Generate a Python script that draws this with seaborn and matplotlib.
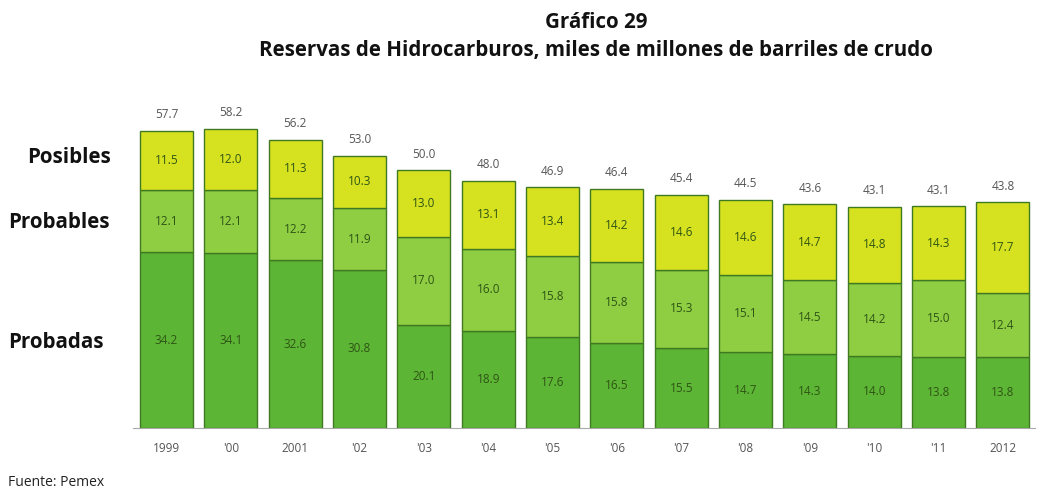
import matplotlib
matplotlib.use("Agg")
import matplotlib.pyplot as plt
import seaborn as sns
import numpy as np
import pandas as pd

years = ["1999", "'00", "2001", "'02", "'03", "'04", "'05", "'06", "'07", "'08", "'09", "'10", "'11", "2012"]
probadas = [34.2, 34.1, 32.6, 30.8, 20.1, 18.9, 17.6, 16.5, 15.5, 14.7, 14.3, 14.0, 13.8, 13.8]
probables = [12.1, 12.1, 12.2, 11.9, 17.0, 16.0, 15.8, 15.8, 15.3, 15.1, 14.5, 14.2, 15.0, 12.4]
posibles = [11.5, 12.0, 11.3, 10.3, 13.0, 13.1, 13.4, 14.2, 14.6, 14.6, 14.7, 14.8, 14.3, 17.7]
totales = [57.7, 58.2, 56.2, 53.0, 50.0, 48.0, 46.9, 46.4, 45.4, 44.5, 43.6, 43.1, 43.1, 43.8]

df = pd.DataFrame({"year": years, "probadas": probadas,
                   "probables": probables, "posibles": posibles})
df["base2"] = df["probadas"] + df["probables"]

sns.set_style("white")
plt.rcParams["font.family"] = ["Open Sans", "DejaVu Sans"]

fig = plt.figure(figsize=(10.4, 4.95), dpi=100)
ax = fig.add_axes([0.1279, 0.1354, 0.8673, 0.6626])

c_prob = "#5cb534"
c_proba = "#8fce42"
c_pos = "#d6e21f"
edge = "#3f7a22"

common = dict(x="year", order=years, width=0.82, edgecolor=edge, linewidth=1.0,
              saturation=1, ax=ax)
sns.barplot(data=df, y="probadas", color=c_prob, **common)
sns.barplot(data=df, y="probables", bottom=df["probadas"], color=c_proba, **common)
sns.barplot(data=df, y="posibles", bottom=df["base2"], color=c_pos, **common)

lab_color = "#2f5516"
for i in range(len(years)):
    ax.text(i, probadas[i] / 2, f"{probadas[i]:.1f}", ha="center", va="center",
            fontsize=8.5, color=lab_color)
    ax.text(i, probadas[i] + probables[i] / 2, f"{probables[i]:.1f}", ha="center",
            va="center", fontsize=8.5, color=lab_color)
    ax.text(i, probadas[i] + probables[i] + posibles[i] / 2, f"{posibles[i]:.1f}",
            ha="center", va="center", fontsize=8.5, color=lab_color)
    ax.annotate(f"{totales[i]:.1f}", (i, probadas[i] + probables[i] + posibles[i]),
                xytext=(0, 7), textcoords="offset points", ha="center", va="bottom",
                fontsize=8.5, color="#555555")

ax.set_xlim(-0.52, 13.45)
ax.set_ylim(0, 63.8)
ax.set_xlabel("")
ax.set_ylabel("")
ax.set_yticks([])
ax.set_xticks(range(len(years)))
ax.set_xticklabels(years, fontsize=8.5, color="#555555")
ax.set_xticks(np.arange(-0.5, len(years), 1.0), minor=True)
ax.tick_params(axis="x", which="major", length=0, pad=10)
ax.tick_params(axis="x", which="minor", length=4, color="#999999", direction="out")
for s in ["top", "right", "left"]:
    ax.spines[s].set_visible(False)
ax.spines["bottom"].set_color("#aaaaaa")
ax.spines["bottom"].set_linewidth(0.8)

fig.text(0.573, 0.976, "Gráfico 29", ha="center", va="top", fontsize=14.8,
         fontweight="bold", color="#111111")
fig.text(0.573, 0.919, "Reservas de Hidrocarburos, miles de millones de barriles de crudo",
         ha="center", va="top", fontsize=14.8, fontweight="bold", color="#111111")

fig.text(0.026, 0.681, "Posibles", ha="left", va="center", fontsize=14.8,
         fontweight="bold", color="#111111")
fig.text(0.008, 0.551, "Probables", ha="left", va="center", fontsize=14.8,
         fontweight="bold", color="#111111")
fig.text(0.008, 0.309, "Probadas", ha="left", va="center", fontsize=14.8,
         fontweight="bold", color="#111111")
fig.text(0.008, 0.025, "Fuente: Pemex", ha="left", va="center", fontsize=10,
         color="#222222")

fig.savefig("out.png", dpi=100, facecolor="white")
